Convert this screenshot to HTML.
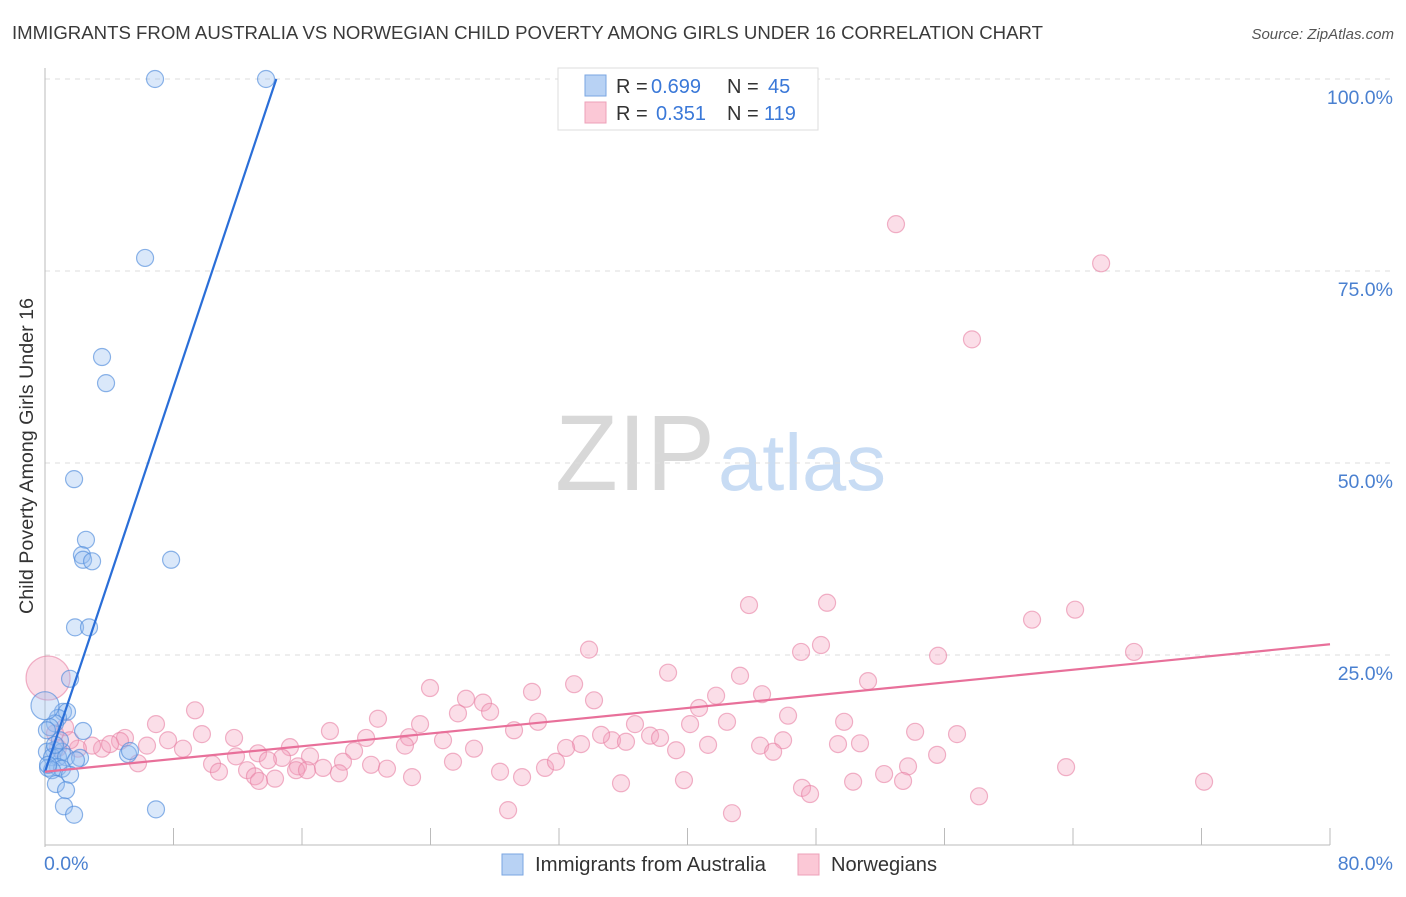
<!DOCTYPE html>
<html><head><meta charset="utf-8"><style>
body{margin:0;background:#fff;font-family:"Liberation Sans",sans-serif;}
svg text{font-family:"Liberation Sans",sans-serif;}
</style></head><body>
<svg id="chart" width="1406" height="892" xmlns="http://www.w3.org/2000/svg">
<text x="12" y="39" font-size="18.6" fill="#3a3a3a" textLength="1031" lengthAdjust="spacingAndGlyphs">IMMIGRANTS FROM AUSTRALIA VS NORWEGIAN CHILD POVERTY AMONG GIRLS UNDER 16 CORRELATION CHART</text>
<text x="1394" y="39" font-size="15" fill="#555" font-style="italic" text-anchor="end">Source: ZipAtlas.com</text>
<g>
<text x="555" y="490" font-size="108" fill="#d8d8d8" font-family="Liberation Serif" textLength="160" lengthAdjust="spacingAndGlyphs">ZIP</text>
<text x="718" y="490" font-size="80" fill="#c8dcf4" textLength="168" lengthAdjust="spacingAndGlyphs">atlas</text>
</g>
<g id="grid"></g>
<g id="axes"></g>
<g id="pts"></g>
<g id="lines"></g>
<text transform="translate(33,456) rotate(-90)" font-size="19" fill="#333" text-anchor="middle" textLength="316" lengthAdjust="spacingAndGlyphs">Child Poverty Among Girls Under 16</text>
<g>
<rect x="558" y="68" width="260" height="62" fill="#fff" stroke="#ddd"/>
<rect x="585" y="75" width="21" height="21" fill="#b8d2f4" stroke="#7aa6e2"/>
<rect x="585" y="102" width="21" height="21" fill="#fbc8d6" stroke="#eea0b8"/>
<text x="616" y="93" font-size="20" fill="#333">R =</text>
<text x="651" y="93" font-size="20" fill="#3a78d8">0.699</text>
<text x="727" y="93" font-size="20" fill="#333">N =</text>
<text x="768" y="93" font-size="20" fill="#3a78d8">45</text>
<text x="616" y="120" font-size="20" fill="#333">R =</text>
<text x="656" y="120" font-size="20" fill="#3a78d8">0.351</text>
<text x="727" y="120" font-size="20" fill="#333">N =</text>
<text x="764" y="120" font-size="20" fill="#3a78d8">119</text>
</g>
<g>
<rect x="502" y="854" width="21" height="21" fill="#b8d2f4" stroke="#7aa6e2"/>
<text x="535" y="871" font-size="20" fill="#333" textLength="231" lengthAdjust="spacingAndGlyphs">Immigrants from Australia</text>
<rect x="798" y="854" width="21" height="21" fill="#fbc8d6" stroke="#eea0b8"/>
<text x="831" y="871" font-size="20" fill="#333" textLength="106" lengthAdjust="spacingAndGlyphs">Norwegians</text>
</g>
</svg>
<script>
const yTicks=[25,50,75,100];
const yTickLabels=["25.0%","50.0%","75.0%","100.0%"];
const xTickVals=[0,8,16,24,32,40,48,56,64,72,80];
const blueX=[6.85,13.76,6.23,3.55,3.80,1.81,2.55,2.30,2.37,2.93,7.85,1.87,2.74,1.56,1.12,1.37,0.81,2.37,0.62,0.31,0.56,1.06,0.12,0.44,0.81,1.31,2.18,1.93,5.17,5.29,0.81,0.19,1.06,0.44,1.56,0.68,1.31,1.18,1.81,6.91,0.19,0.93,0.12,0.62,0];
const blueY=[100,100,76.7,63.8,60.4,47.9,40.0,38.0,37.4,37.2,37.4,28.6,28.6,21.9,17.6,17.6,16.8,15.1,16.1,15.6,12.6,12.4,12.4,11.7,11.7,11.7,11.6,11.3,12.1,12.5,10.4,10.3,10.2,10.0,9.4,8.2,7.4,5.3,4.2,4.9,10.7,13.9,15.2,13.3,18.4];
const pinkX=[52.98,65.75,57.71,43.83,48.69,64.13,61.45,33.87,47.07,48.31,55.60,67.80,38.79,43.27,51.24,23.97,32.94,30.32,26.21,34.18,27.27,41.78,44.64,27.71,25.71,9.34,20.73,30.69,40.72,49.75,42.46,46.26,40.16,36.73,23.35,6.91,1.25,54.17,56.78,29.20,17.74,19.99,22.66,24.78,9.77,11.77,37.67,38.29,35.30,36.17,34.62,45.95,50.74,49.37,41.28,44.52,33.37,32.44,26.71,22.41,19.24,7.66,8.59,4.98,4.67,6.35,3.55,2.93,2.05,4.05,15.25,13.26,18.55,14.76,16.50,15.75,13.88,11.89,10.40,10.83,12.58,13.07,14.32,13.32,15.63,16.31,17.31,18.30,20.30,21.29,22.85,25.40,31.13,31.81,28.33,29.70,39.29,45.33,55.54,53.73,52.24,63.57,50.31,53.42,35.86,39.78,72.16,47.13,47.63,58.15,28.83,42.77,5.79,0.62,0.19,0.81,1.56];
const pinkY=[81.1,76.0,66.1,31.5,31.8,30.9,29.6,25.7,25.4,26.3,24.9,25.4,22.7,22.3,21.6,20.7,21.2,20.2,19.3,19.1,18.8,19.7,19.9,17.6,17.4,17.8,16.7,16.3,18.1,16.3,16.3,17.1,16.0,16.0,16.0,16.0,15.6,15.0,14.7,15.2,15.1,14.2,14.3,13.9,14.7,14.2,14.5,14.2,13.9,13.7,14.6,13.9,13.5,13.4,13.3,13.2,13.4,12.9,12.8,13.2,12.5,13.9,12.8,14.2,13.8,13.2,12.8,13.2,12.8,13.4,13.0,12.2,11.1,11.6,11.8,10.5,11.3,11.8,10.8,9.8,10.0,9.2,8.9,8.6,10.0,10.0,10.3,9.6,10.7,10.2,9.1,11.1,10.3,11.1,9.8,9.1,12.6,12.4,12.0,10.5,9.5,10.4,8.5,8.6,8.3,8.7,8.5,7.7,6.9,6.6,4.8,4.4,10.9,14.8,22.0,12.9,13.9];
const blueTrendX=[0,14.4];
const blueTrendY=[9.8,100];
const pinkTrendX=[0,80];
const pinkTrendY=[9.8,26.4];

const NS="http://www.w3.org/2000/svg";
const X0=45,X1=1330,Y0=847,Y100=79;
function sx(v){return X0+(X1-X0)*v/80;}
function sy(v){return Y0-(Y0-Y100)*v/100;}
function mk(tag,attrs,parent){const e=document.createElementNS(NS,tag);for(const k in attrs)e.setAttribute(k,attrs[k]);parent.appendChild(e);return e;}
const grid=document.getElementById('grid'),axes=document.getElementById('axes'),pts=document.getElementById('pts'),lines=document.getElementById('lines');
yTicks.forEach((t,i)=>{
  const g=mk('line',{x1:X0,x2:1394,y1:sy(t),y2:sy(t),stroke:'#dcdcdc','stroke-dasharray':'5,5'},grid);
  
  
  const l=mk('text',{x:1393,y:sy(t)+25,'font-size':19.5,fill:'#4a80d0','text-anchor':'end'},axes);
  l.textContent=yTickLabels[i];
  
  
});
const ax=mk('line',{x1:X0,x2:X0,y1:68,y2:Y0,stroke:'#bbb'},axes);


const bx=mk('line',{x1:X0,x2:X1,y1:845,y2:845,stroke:'#bbb'},axes);


xTickVals.forEach(v=>{
  const t=mk('line',{x1:sx(v),x2:sx(v),y1:828,y2:845,stroke:'#bbb'},axes);
  
  
});
const xl0=mk('text',{x:44,y:870,'font-size':19.5,fill:'#4a80d0'},axes);xl0.textContent='0.0%';


const xl1=mk('text',{x:1393,y:870,'font-size':19.5,fill:'#4a80d0','text-anchor':'end'},axes);xl1.textContent='80.0%';


pinkX.forEach((v,i)=>{
  const r=(v<0.3&&pinkY[i]>20)?22:8.5;
  const c=mk('circle',{cx:sx(v),cy:sy(pinkY[i]),r:r,fill:'rgba(244,160,188,0.35)',stroke:'rgba(232,128,164,0.6)','stroke-width':1.2},pts);
  
  
});
blueX.forEach((v,i)=>{
  const r=(v===0)?14:8.5;
  const c=mk('circle',{cx:sx(v),cy:sy(blueY[i]),r:r,fill:'rgba(150,190,240,0.35)',stroke:'rgba(80,140,220,0.65)','stroke-width':1.2},pts);
  
  
});
const bl=mk('line',{x1:sx(blueTrendX[0]),y1:sy(blueTrendY[0]),x2:sx(blueTrendX[1]),y2:sy(blueTrendY[1]),stroke:'#2a6ed8','stroke-width':2.2},lines);


const pl=mk('line',{x1:sx(pinkTrendX[0]),y1:sy(pinkTrendY[0]),x2:sx(pinkTrendX[1]),y2:sy(pinkTrendY[1]),stroke:'#e8709a','stroke-width':2.2},lines);


</script>
</body></html>
